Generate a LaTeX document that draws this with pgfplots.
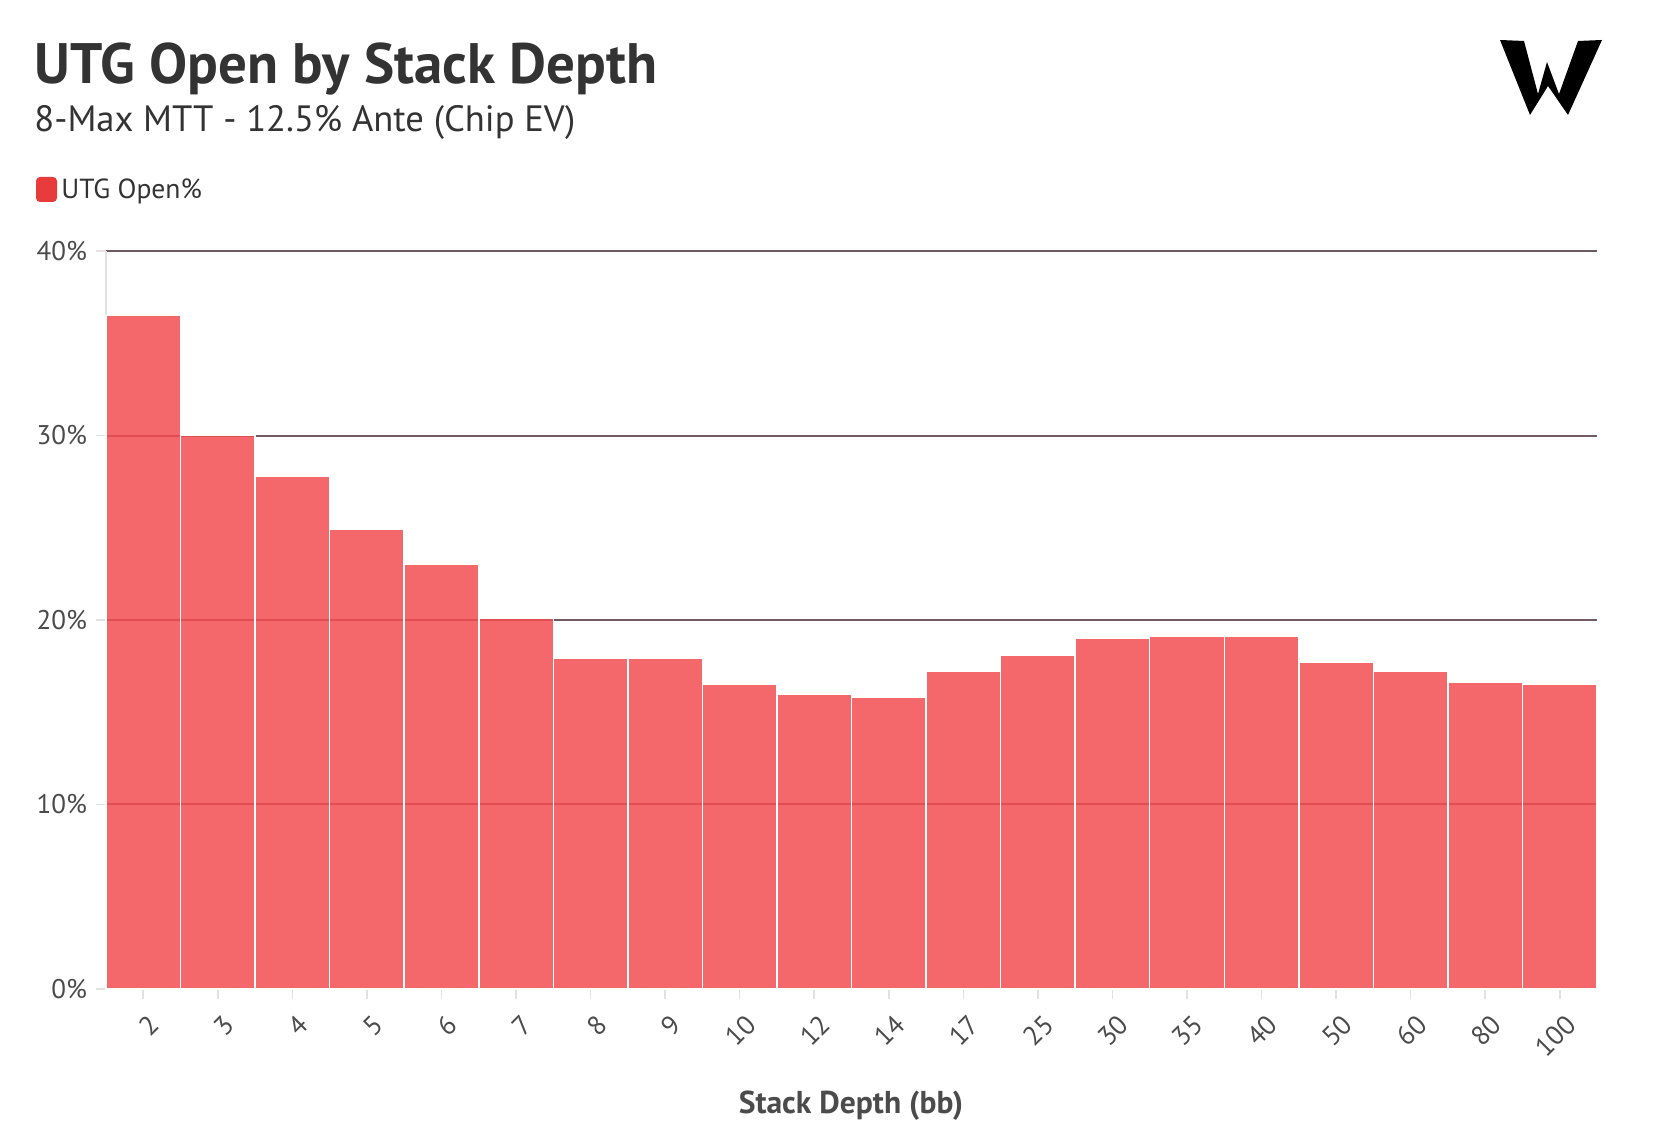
\documentclass[border=0pt]{standalone}
\usepackage{pgfplots}
\pgfplotsset{compat=1.18}
\usepackage{fontspec}
\setmainfont{PT Sans}
\definecolor{barc}{RGB}{242,76,80}
\definecolor{gridc}{RGB}{110,90,96}
\definecolor{txt}{RGB}{51,51,51}
\definecolor{ticktxt}{RGB}{75,75,75}
\definecolor{axc}{RGB}{225,225,225}
\definecolor{legc}{RGB}{232,60,60}
\pgfplotstableread{
x val
0 36.5
1 30.0
2 27.8
3 24.9
4 23.0
5 20.1
6 17.9
7 17.9
8 16.5
9 16.0
10 15.8
11 17.2
12 18.1
13 19.0
14 19.1
15 19.1
16 17.7
17 17.2
18 16.6
19 16.5
}\datatable
\begin{document}
\begin{tikzpicture}[x=1pt,y=1pt]
\path[use as bounding box] (0,0) rectangle (830,570);
\begin{axis}[
  at={(53pt,75.5pt)}, anchor=south west, scale only axis,
  width=745.5pt, height=369pt,
  xmin=-0.5, xmax=19.5, ymin=0, ymax=40,
  axis x line*=bottom, axis y line*=left,
  axis line style={axc, line width=0.8pt},
  ytick={10,20,30,40},
  yticklabels={10\%,20\%,30\%,40\%},
  extra y ticks={0}, extra y tick labels={0\%},
  extra y tick style={grid=none},
  ymajorgrids,
  grid style={gridc, line width=1pt},
  xtick={0,...,19},
  xticklabels={2,3,4,5,6,7,8,9,10,12,14,17,25,30,35,40,50,60,80,100},
  tick align=outside, major tick length=5pt,
  tick style={axc, line width=0.8pt},
  ticklabel style={font=\fontsize{13.5}{15}\selectfont, text=ticktxt},
  yticklabel style={xshift=-1pt},
  xticklabel style={rotate=45, anchor=north east, xshift=0pt, yshift=-3pt},
  clip=false,
]
\addplot[ybar, bar width=1, fill=barc, fill opacity=0.85, draw=white, line width=0.75pt] table[x=x, y=val] {\datatable};
\end{axis}
% titles
\node[anchor=base west, inner sep=0, text=txt, font=\fontsize{28.5}{32}\selectfont\bfseries] at (17,528) {UTG Open by Stack Depth};
\node[anchor=base west, inner sep=0, text=txt, font=\fontsize{18.3}{22}\selectfont] at (17,504) {8-Max MTT - 12.5\% Ante (Chip EV)};
% legend
\fill[legc, rounded corners=2pt] (18,469) rectangle (28.5,481.5);
\node[anchor=base west, inner sep=0, text=txt, font=\fontsize{13.8}{16}\selectfont] at (30.5,470.5) {UTG Open\%};
% x label
\node[anchor=base, inner sep=0, text=ticktxt, font=\fontsize{15.8}{18}\selectfont\bfseries] at (425.5,13) {Stack Depth (bb)};
% logo
\fill[black] (750,550) -- (762,549.5) -- (769,523) -- (773.5,539) -- (779.5,523) -- (789,549.5) -- (801,550) -- (784,512.5) -- (774,527) -- (765,512.5) -- cycle;
\end{tikzpicture}
\end{document}
